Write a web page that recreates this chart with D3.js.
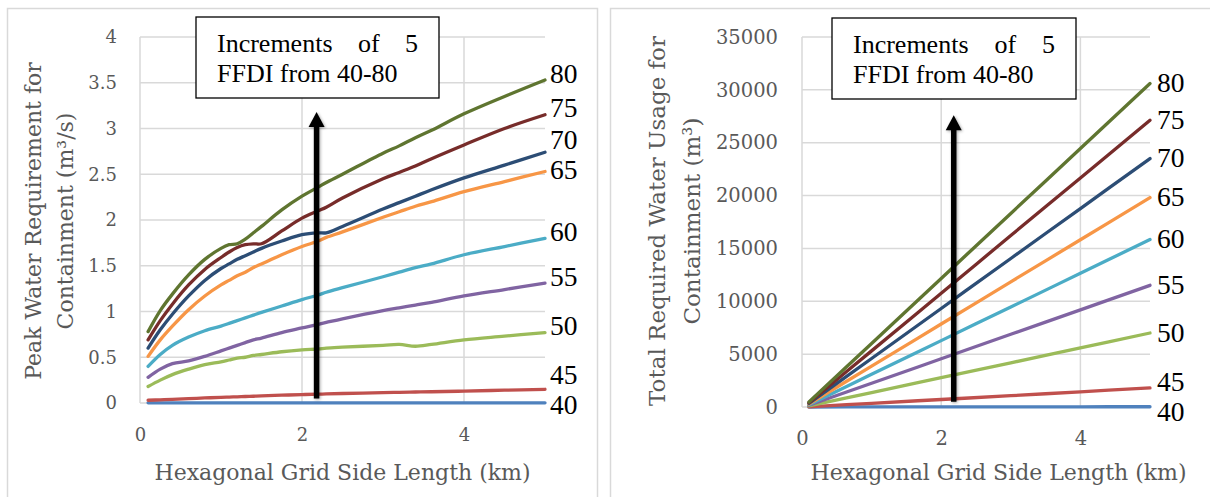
<!DOCTYPE html>
<html>
<head>
<meta charset="utf-8">
<script src="https://cdn.jsdelivr.net/npm/d3@7"></script>
<style>
  html, body { margin: 0; padding: 0; background: #fff; }
  svg { display: block; }
  .axisf { font-family: "DejaVu Serif", serif; }
  .notef { font-family: "Liberation Serif", "Times New Roman", Times, "Noto Serif", "DejaVu Serif", serif; }
</style>
</head>
<body>
<svg id="chart" width="1210" height="497"></svg>
<script>
// ---------------- DATA ----------------
const ffdi = [40, 45, 50, 55, 60, 65, 70, 75, 80];
const colors = ["#4F81BD", "#C0504D", "#9BBB59", "#8064A2", "#4BACC6", "#F79646", "#2C4D75", "#772C2A", "#5F7530"];

// Left chart: peak water requirement (m3/s) vs hexagonal grid side length (km)
const peakX = [0.1, 0.25, 0.4, 0.6, 0.8, 1.0, 1.1, 1.2, 1.3, 1.4, 1.5, 1.75, 2.0, 2.2, 2.3, 2.5, 3.0, 3.2, 3.4, 3.6, 4.0, 4.5, 5.0];
const peak40 = [0.002, 0.002, 0.002, 0.002, 0.002, 0.002, 0.002, 0.002, 0.002, 0.002, 0.002, 0.002, 0.002, 0.002, 0.002, 0.002, 0.002, 0.002, 0.002, 0.002, 0.002, 0.002, 0.002];
const peak45 = [0.03, 0.035, 0.04, 0.047, 0.055, 0.062, 0.065, 0.068, 0.071, 0.074, 0.077, 0.085, 0.092, 0.097, 0.099, 0.104, 0.113, 0.117, 0.12, 0.123, 0.13, 0.14, 0.15];
const peak50 = [0.18, 0.25, 0.31, 0.37, 0.42, 0.45, 0.47, 0.49, 0.50, 0.52, 0.53, 0.56, 0.58, 0.59, 0.60, 0.61, 0.63, 0.64, 0.62, 0.64, 0.69, 0.73, 0.77];
const peak55 = [0.28, 0.37, 0.43, 0.46, 0.51, 0.57, 0.60, 0.63, 0.66, 0.69, 0.71, 0.77, 0.82, 0.86, 0.88, 0.92, 1.01, 1.04, 1.07, 1.10, 1.17, 1.24, 1.31];
const peak60 = [0.40, 0.53, 0.63, 0.72, 0.79, 0.84, 0.87, 0.90, 0.93, 0.96, 0.99, 1.06, 1.13, 1.18, 1.21, 1.26, 1.38, 1.43, 1.48, 1.52, 1.62, 1.71, 1.80];
const peak65 = [0.51, 0.69, 0.84, 1.02, 1.17, 1.29, 1.34, 1.39, 1.43, 1.48, 1.52, 1.62, 1.71, 1.77, 1.81, 1.87, 2.03, 2.09, 2.15, 2.20, 2.31, 2.42, 2.53];
const peak70 = [0.60, 0.80, 0.97, 1.17, 1.34, 1.47, 1.52, 1.57, 1.61, 1.65, 1.69, 1.77, 1.84, 1.86, 1.86, 1.93, 2.12, 2.19, 2.26, 2.33, 2.46, 2.60, 2.74];
const peak75 = [0.69, 0.90, 1.08, 1.29, 1.46, 1.59, 1.65, 1.70, 1.73, 1.74, 1.74, 1.88, 2.02, 2.10, 2.14, 2.24, 2.45, 2.52, 2.59, 2.67, 2.82, 3.00, 3.15];
const peak80 = [0.78, 1.01, 1.19, 1.40, 1.57, 1.69, 1.73, 1.74, 1.79, 1.86, 1.93, 2.11, 2.26, 2.36, 2.41, 2.50, 2.73, 2.81, 2.90, 2.98, 3.16, 3.35, 3.53];
const peakSeries = [peak40, peak45, peak50, peak55, peak60, peak65, peak70, peak75, peak80];

// Right chart: total required water usage (m3) vs hexagonal grid side length (km)
const totalX = [0.1, 1, 2, 3, 4, 5];
const total40 = [1, 5, 10, 15, 20, 25];
const total45 = [20, 350, 710, 1070, 1440, 1800];
const total50 = [100, 1370, 2780, 4180, 5590, 7000];
const total55 = [160, 2250, 4560, 6880, 9190, 11510];
const total60 = [220, 3090, 6280, 9460, 12650, 15840];
const total65 = [280, 3870, 7850, 11840, 15820, 19810];
const total70 = [340, 4590, 9320, 14050, 18770, 23500];
const total75 = [400, 5310, 10760, 16220, 21670, 27130];
const total80 = [480, 6010, 12160, 18310, 24450, 30600];
const totalSeries = [total40, total45, total50, total55, total60, total65, total70, total75, total80];

const xTicks = [0, 2, 4];
const peakTicks = [0, 0.5, 1, 1.5, 2, 2.5, 3, 3.5, 4];
const totalTicks = [0, 5000, 10000, 15000, 20000, 25000, 30000, 35000];

const noteLine1 = ["Increments", "of", "5"];
const noteLine2 = "FFDI from 40-80";
const xTitle = "Hexagonal Grid Side Length (km)";
const leftYTitle = ["Peak Water Requirement for", "Containment (m\u00B3/s)"];
const rightYTitle = ["Total Required Water Usage for", "Containment (m\u00B3)"];
const arrowX = 2.18;

// ---------------- DRAW ----------------
const svg = d3.select("#chart");
const textGray = "#595959";
const gridGray = "#d9d9d9";

const defs = svg.append("defs");
const f = defs.append("filter").attr("id", "shadow").attr("x", "-50%").attr("y", "-10%").attr("width", "200%").attr("height", "120%");
f.append("feDropShadow").attr("dx", 1).attr("dy", 1).attr("stdDeviation", 1.5).attr("flood-color", "#000").attr("flood-opacity", 0.35);

svg.append("rect").attr("width", 1210).attr("height", 497).attr("fill", "#fff");

function drawPanel(cfg) {
  const g = svg.append("g");
  g.append("rect").attr("x", cfg.panel[0]).attr("y", cfg.panel[1]).attr("width", cfg.panel[2]).attr("height", cfg.panel[3])
    .attr("fill", "none").attr("stroke", gridGray).attr("stroke-width", 1.5);

  const x = d3.scaleLinear().domain([0, 5]).range(cfg.xRange);
  const y = d3.scaleLinear().domain(cfg.yDomain).range(cfg.yRange);

  g.append("g").selectAll("line").data(cfg.yTicks).join("line")
    .attr("x1", x(0)).attr("x2", x(5)).attr("y1", d => y(d)).attr("y2", d => y(d))
    .attr("stroke", gridGray).attr("stroke-width", 1.5);
  g.append("g").selectAll("line").data(xTicks).join("line")
    .attr("x1", d => x(d)).attr("x2", d => x(d)).attr("y1", y(cfg.yDomain[0])).attr("y2", y(cfg.yDomain[1]))
    .attr("stroke", gridGray).attr("stroke-width", 1.5);

  const ya = g.append("g").attr("transform", `translate(${x(0)},0)`)
    .call(d3.axisLeft(y).tickValues(cfg.yTicks).tickSize(0).tickPadding(cfg.yPad).tickFormat(d => String(d)));
  ya.select(".domain").remove();
  ya.selectAll("text").attr("class", "axisf").attr("font-size", cfg.tickSize).attr("fill", textGray);

  const xa = g.append("g").attr("transform", `translate(0,${y(0)})`)
    .call(d3.axisBottom(x).tickValues(xTicks).tickSize(0).tickPadding(cfg.xPad).tickFormat(d => String(d)));
  xa.select(".domain").remove();
  xa.selectAll("text").attr("class", "axisf").attr("font-size", cfg.tickSize).attr("fill", textGray);
  ya.attr("font-family", null); xa.attr("font-family", null);

  g.append("text").attr("class", "axisf").attr("x", cfg.xTitlePos[0]).attr("y", cfg.xTitlePos[1])
    .attr("text-anchor", "middle").attr("dominant-baseline", "central")
    .attr("font-size", cfg.xTitleSize).attr("fill", textGray).text(xTitle);
  cfg.yTitle.forEach((t, i) => {
    g.append("text").attr("class", "axisf").attr("transform", `translate(${cfg.yTitleX[i]},${cfg.yTitleCy}) rotate(-90)`)
      .attr("text-anchor", "middle").attr("dominant-baseline", "central")
      .attr("font-size", cfg.yTitleSize).attr("fill", textGray).text(t);
  });

  const line = d3.line().x(d => x(d[0])).y(d => y(d[1])).curve(d3.curveCatmullRom.alpha(0.5));
  cfg.series.forEach((vals, i) => {
    const pts = cfg.xs.map((xv, j) => [xv, vals[j]]);
    g.append("path").attr("d", line(pts)).attr("fill", "none").attr("stroke", colors[i])
      .attr("stroke-width", 3.3).attr("stroke-linejoin", "round").attr("stroke-linecap", "round");
  });

  const labels = cfg.series.map((vals, i) => ({ name: String(ffdi[i]), y: y(vals[vals.length - 1]) + cfg.labelOff }));
  for (let it = 0; it < 80; it++) {
    for (let i = 0; i < labels.length - 1; i++) {
      const lo = labels[i], hi = labels[i + 1];
      const gap = lo.y - hi.y;
      if (gap < cfg.labelGap) {
        const d = (cfg.labelGap - gap) / 2;
        lo.y += d; hi.y -= d;
      }
    }
  }
  g.append("g").selectAll("text").data(labels).join("text")
    .attr("class", "notef")
    .attr("x", x(5) + cfg.labelDx).attr("y", d => d.y)
    .attr("dominant-baseline", "central")
    .attr("font-size", 27.5).attr("fill", "#000")
    .text(d => d.name);

  const ax = x(arrowX), yb = y(cfg.arrowY[0]), yt = y(cfg.arrowY[1]);
  const ag = g.append("g").attr("filter", "url(#shadow)");
  ag.append("line").attr("x1", ax).attr("x2", ax).attr("y1", yb).attr("y2", yt + 12)
    .attr("stroke", "#000").attr("stroke-width", 5.5);
  ag.append("path").attr("d", `M${ax},${yt} L${ax - 8},${yt + 15} L${ax + 8},${yt + 15} Z`).attr("fill", "#000");

  const [bx, by, bw, bh] = cfg.box;
  g.append("rect").attr("x", bx).attr("y", by).attr("width", bw).attr("height", bh)
    .attr("fill", "#fff").attr("stroke", "#000").attr("stroke-width", 1.3);
  const left = bx + 21, right = bx + bw - 21;
  const words = noteLine1.map(w => g.append("text").attr("class", "notef").attr("y", by + 35)
    .attr("font-size", 26).attr("fill", "#000").text(w));
  const widths = words.map(t => t.node().getComputedTextLength());
  const gap = (right - left - d3.sum(widths)) / (words.length - 1);
  let cx = left;
  words.forEach((t, i) => { t.attr("x", cx); cx += widths[i] + gap; });
  g.append("text").attr("class", "notef").attr("x", left).attr("y", by + 65)
    .attr("font-size", 26).attr("fill", "#000").text(noteLine2);
}

drawPanel({
  panel: [7.5, 8.5, 590, 520],
  xRange: [140, 545],
  yDomain: [0, 4], yRange: [403, 37],
  yTicks: peakTicks,
  xs: peakX, series: peakSeries,
  yPad: 23, xPad: 25, tickSize: 18, xTitleSize: 22, yTitleSize: 22,
  xTitlePos: [342.5, 472],
  yTitle: leftYTitle, yTitleX: [33, 65], yTitleCy: 221,
  labelDx: 5, labelGap: 30, labelOff: -7,
  arrowY: [0.05, 3.18],
  box: [196, 17, 243, 81]
});

drawPanel({
  panel: [610.5, 8.5, 700, 520],
  xRange: [802, 1150],
  yDomain: [0, 35000], yRange: [407, 37],
  yTicks: totalTicks,
  xs: totalX, series: totalSeries,
  yPad: 24, xPad: 24, tickSize: 19.5, xTitleSize: 22, yTitleSize: 23,
  xTitlePos: [998.5, 472],
  yTitle: rightYTitle, yTitleX: [657, 692], yTitleCy: 221,
  labelDx: 7, labelGap: 30, labelOff: -1,
  arrowY: [500, 27600],
  box: [832, 18, 244, 81]
});
</script>
</body>
</html>
